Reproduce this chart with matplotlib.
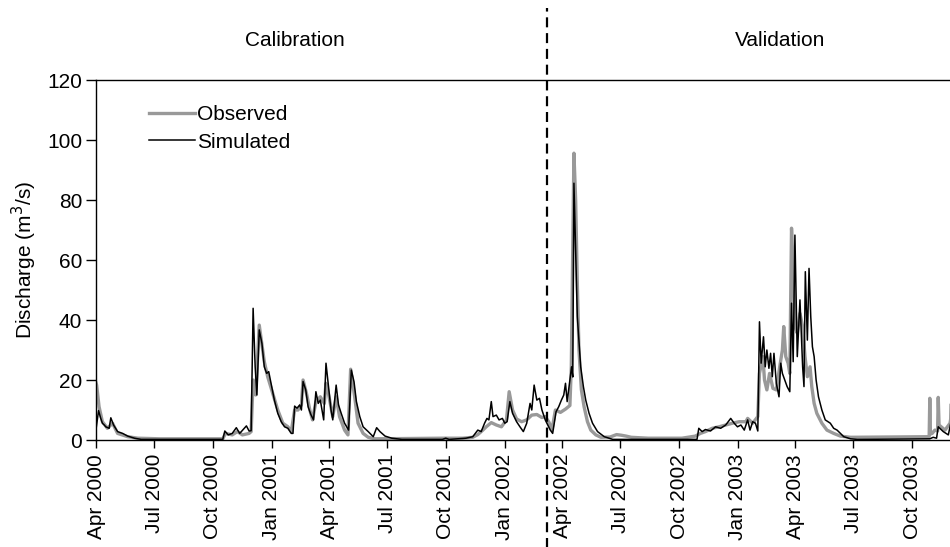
import datetime as dt
import matplotlib
matplotlib.use("Agg")
import matplotlib.pyplot as plt
import matplotlib.dates as mdates

plt.rcParams['font.family'] = ['Liberation Sans', 'DejaVu Sans']

# ---- data (days since 2000-04-01, discharge m3/s) ----
start_date = dt.datetime(2000, 4, 1)

obs_day = [0, 1, 4.8, 10, 17.9, 25.9, 33.8, 49.6, 65.5, 100, 150, 198.5, 202.8, 213.3, 221.3,
           229.2, 239.7, 242.9, 246, 250, 255.6, 263.5, 268.8, 276.7, 284.6, 292.5, 300.5,
           305.7, 311, 316.3, 321.6, 324.2, 329.5, 334.8, 339, 344.3, 351.2, 357.5, 360.1,
           363.8, 370.7, 376, 381.3, 389.2, 394.5, 398.7, 405, 410.3, 418.2, 426.2, 436.7,
           542, 574, 589.9, 597.8, 605.7, 611, 618.9, 626.8, 634.8, 642.7, 646.9, 652.2,
           658.5, 666.4, 674.3, 682.3, 690.2, 698.1, 703.4, 709, 714, 719.3, 727.2, 735.1,
           742, 744.2, 748.3, 751, 753.6, 756.2, 760, 764.2, 769.5, 774.7, 782.6, 790.6,
           805, 815, 822.3, 830, 838.1, 864.5, 917.3, 938.4, 946.3, 954.2, 964.8, 975.4,
           985.9, 996.5, 1007.1, 1017.6, 1020.3, 1028.2, 1036.2, 1038.8, 1044.1, 1046.7,
           1050.4, 1054.6, 1059.9, 1065.2, 1070.5, 1074.7, 1076.8, 1080, 1083.7, 1086.3,
           1089, 1091.6, 1094.3, 1098, 1102.2, 1106.4, 1110.1, 1113.8, 1118, 1120.7, 1124.4,
           1128.6, 1136.5, 1144.4, 1155, 1165.5, 1181.4, 1240, 1302.9, 1304.5, 1305.5,
           1306.5, 1309.2, 1313.4, 1317.7, 1318.7, 1320, 1329.3, 1337.2, 1338.2, 1339,
           1340.2, 1342.5, 1347.7, 1353]
obs_q = [19, 18.3, 11.1, 6.1, 3.9, 5.6, 2.2, 1.1, 0.6, 0.4, 0.4, 0.4, 2.2, 1.7, 2.8,
         1.7, 2.2, 2.8, 20, 15, 38.3, 26.1, 21.1, 15.6, 10, 5.6, 4.4,
         2.8, 10, 10, 11.7, 20, 15.6, 10, 6.7, 12.8, 14.4, 12.2, 18.9,
         15.6, 7.8, 14.4, 7.8, 3.3, 1.7, 23.6, 14.4, 5.6, 2.2, 0.9, 0.4,
         0.6, 0.6, 0.9, 1.8, 3.3, 4.4, 5.8, 5, 4.4, 6.7, 16.1, 10,
         7, 6.1, 6.7, 8.3, 8.5, 7.5, 7.8, 6, 3.5, 10, 9.2, 10.3,
         11.5, 24.4, 95.6, 80, 52.2, 30, 16.7, 11.1, 6.1, 3.3, 1.7, 0.9,
         1.0, 1.8, 1.6, 1.3, 0.9, 0.6, 0.6, 1.3, 2.2, 2.8, 3.9, 4.4,
         5, 5.6, 6.1, 6.1, 7.2, 5.6, 7.8, 22.2, 27.8, 20,
         16.7, 22.2, 17.2, 16.7, 24.4, 30, 37.8, 27.8, 25.6, 22.2,
         70.6, 57.8, 37.8, 35.6, 42.2, 37.8, 27.8, 21.1, 24.4, 17.8, 12.2,
         8.9, 5.6, 3.3, 2.2, 1.3, 0.9, 1.0, 1.1, 1.2, 13.9,
         2.0, 2.2, 3.3, 3.0, 14.2, 5.0, 3.3, 5.6, 7.0, 14.4,
         9.0, 8.9, 11.1, 7.2]

sim_day = [0, 4, 7, 10, 13, 15.3, 20.6, 23.2, 27.5, 33.8, 41.7, 49.6, 60.2, 70.8, 198.5,
           201.7, 207, 213.3, 219.7, 225, 235.5, 239.7, 242.9, 246, 249.2, 251.9, 255.6,
           259.8, 263.5, 267.2, 270.4, 274, 279.3, 284.6, 290, 295.2, 300.5, 305.7, 308.4,
           311, 314.7, 319, 321.6, 324.2, 328.4, 332.1, 336.4, 340.6, 344.3, 348, 351.2,
           356.5, 360.1, 363.8, 368, 370.7, 376, 379.7, 383.9, 389.2, 395.5, 399.8, 404,
           407.7, 413, 418.2, 426.2, 434.1, 439.4, 444.6, 452.6, 463.1, 479, 542.3, 547.6,
           552.9, 579.3, 589.9, 597.8, 603.1, 608.4, 612.1, 615.2, 618.9, 621.6, 626.8,
           631.1, 636.3, 640, 643.7, 648, 652.2, 658.5, 663.8, 669.1, 674.4, 679.6, 682.3,
           686, 690.2, 694.4, 698.2, 703.4, 708.7, 711.3, 715, 720.3, 724.5, 728.7, 732.4,
           735.1, 737.7, 741.4, 744.6, 746.5, 748.3, 751, 753.6, 758.9, 763.1, 766.8, 772,
           777.4, 785.3, 795.8, 809.1, 941, 943.8, 949, 954.2, 962.1, 970.1, 978, 985.9,
           993.8, 999.2, 1004.4, 1009.7, 1015, 1020.3, 1024, 1028.2, 1032.5, 1036.2,
           1038.8, 1041.4, 1045.1, 1047.8, 1050.4, 1053.6, 1056.2, 1058.9, 1061.5, 1065.2,
           1069.4, 1072.1, 1074.7, 1078.4, 1082.1, 1086.3, 1089, 1091.6, 1094.3, 1098,
           1102.2, 1106.4, 1108.5, 1110.6, 1113.8, 1116.4, 1119.1, 1121.7, 1124.4, 1127.5,
           1131.2, 1136.5, 1141.8, 1149.7, 1155, 1160.3, 1165.5, 1170.8, 1181.4, 1192,
           1305.5, 1310.8, 1316.1, 1318.7, 1326.6, 1334.5, 1338.8, 1340.9, 1345.1, 1347.7,
           1350.4, 1353]
sim_q = [3.5, 9.8, 7.5, 5.6, 5, 4.4, 3.9, 7.4, 5, 2.8, 2.2, 1.3, 0.6, 0.2, 0.2,
         3, 1.7, 2.2, 4.1, 2.2, 4.7, 3, 3.1, 43.9, 24.4, 15, 36.7,
         32.2, 24.4, 22.2, 22.8, 18.9, 13.3, 8.9, 6.1, 4.4, 3.9, 2.2, 2.2,
         11.3, 10.6, 11.7, 10, 19.5, 16.7, 11.1, 8.5, 6.7, 16.1, 12.2, 13.3,
         6.7, 25.6, 18.3, 10, 6.7, 18.3, 11.7, 8.9, 5.6, 3.3, 23.3, 19.4,
         12.8, 7.8, 4.4, 2.8, 1.1, 4.1, 2.8, 1.3, 0.6, 0.2, 0.2, 0.6,
         0.2, 0.6, 1.1, 3.3, 2.8, 5.6, 7.2, 6.7, 12.8, 7.8, 8.3,
         6.7, 7.2, 5.6, 6.1, 12.8, 8.9, 6.1, 4.4, 2.8, 5.6, 12.2, 10,
         18.3, 13.3, 13.9, 10, 6.7, 4.4, 3.3, 2.2, 9.4, 11.1, 13.3, 15,
         18.9, 12.8, 18.9, 24.4, 21, 85.6, 63.3, 41.1, 24.4, 17.8, 13.3, 8.9,
         5.6, 2.8, 1.1, 0.2, 0.2, 3.9, 2.8, 3.5, 3, 4.4, 3.9, 5,
         7.2, 5.6, 4.4, 5, 3.3, 6.7, 3.3, 6.1, 5.6, 3.0,
         39.4, 25.6, 34.4, 24.4, 30, 23.9, 28.9, 21.1, 28.9, 18.9,
         14.4, 25.6, 22.2, 20, 17.8, 16.1, 45.6, 26.1, 68.3, 27.8,
         46.7, 24.4, 17.8, 56.1, 33.3, 57.2, 41.1, 31.1, 27.8, 20,
         14.4, 10, 6.7, 5.6, 3.9, 3.3, 2.2, 1.1, 0.4, 0.2,
         0.4, 0.9, 0.6, 4.4, 2.8, 1.7, 6.1, 8.3, 16.7, 11.1,
         8.9, 7.2]

tick_dates = ["2000-04-01", "2000-07-01", "2000-10-01", "2001-01-01", "2001-04-01",
              "2001-07-01", "2001-10-01", "2002-01-01", "2002-04-01", "2002-07-01",
              "2002-10-01", "2003-01-01", "2003-04-01", "2003-07-01", "2003-10-01"]
split_date = "2002-03-08"
end_date = "2003-12-14"
period_labels = ["Calibration", "Validation"]
series_labels = ["Observed", "Simulated"]
y_ticks = [0, 20, 40, 60, 80, 100, 120]

# ---- plotting ----
base = mdates.date2num(start_date)
obs_x = [base + d for d in obs_day]
sim_x = [base + d for d in sim_day]

fig = plt.figure(figsize=(9.5, 5.47), dpi=100)
ax = fig.add_axes([96 / 950, 1 - 440 / 547, 1 - 96 / 950 + 0.01, 360 / 547])

ax.plot(obs_x, obs_q, color='#999999', lw=2.4, label=series_labels[0], solid_joinstyle='round')
ax.plot(sim_x, sim_q, color='black', lw=1.1, label=series_labels[1])

split_x = mdates.date2num(dt.datetime.strptime(split_date, "%Y-%m-%d"))
ax.axvline(split_x, ymin=-0.3, ymax=1.2, clip_on=False, color='black', lw=1.6,
           ls=(0, (4.5, 2.6)))

ax.set_xlim(base, mdates.date2num(dt.datetime.strptime(end_date, "%Y-%m-%d")))
ax.set_ylim(0, 120)
ax.set_yticks(y_ticks)
ax.set_xticks([mdates.date2num(dt.datetime.strptime(t, "%Y-%m-%d")) for t in tick_dates])
ax.xaxis.set_major_formatter(mdates.DateFormatter("%b %Y"))
ax.tick_params(axis='x', labelrotation=90, labelsize=15, length=6, width=1, pad=4, direction='out')
ax.tick_params(axis='y', labelsize=15, length=7, width=1, pad=3, direction='out')
for lab in ax.get_xticklabels():
    lab.set_verticalalignment('top')

ax.spines['right'].set_visible(False)
for s in ['left', 'bottom', 'top']:
    ax.spines[s].set_linewidth(1.0)

ax.set_ylabel("Discharge (m$^3$/s)", fontsize=15, labelpad=6)

leg = ax.legend(loc='upper left', bbox_to_anchor=(0.052, 0.953), frameon=False, fontsize=15,
                handlelength=2.2, handletextpad=0.1, labelspacing=0.4, borderaxespad=0)

fig.text(295 / 950, 1 - 40 / 547, period_labels[0], ha='center', va='center', fontsize=15)
fig.text(780 / 950, 1 - 40 / 547, period_labels[1], ha='center', va='center', fontsize=15)

fig.savefig("out.png", dpi=100)
